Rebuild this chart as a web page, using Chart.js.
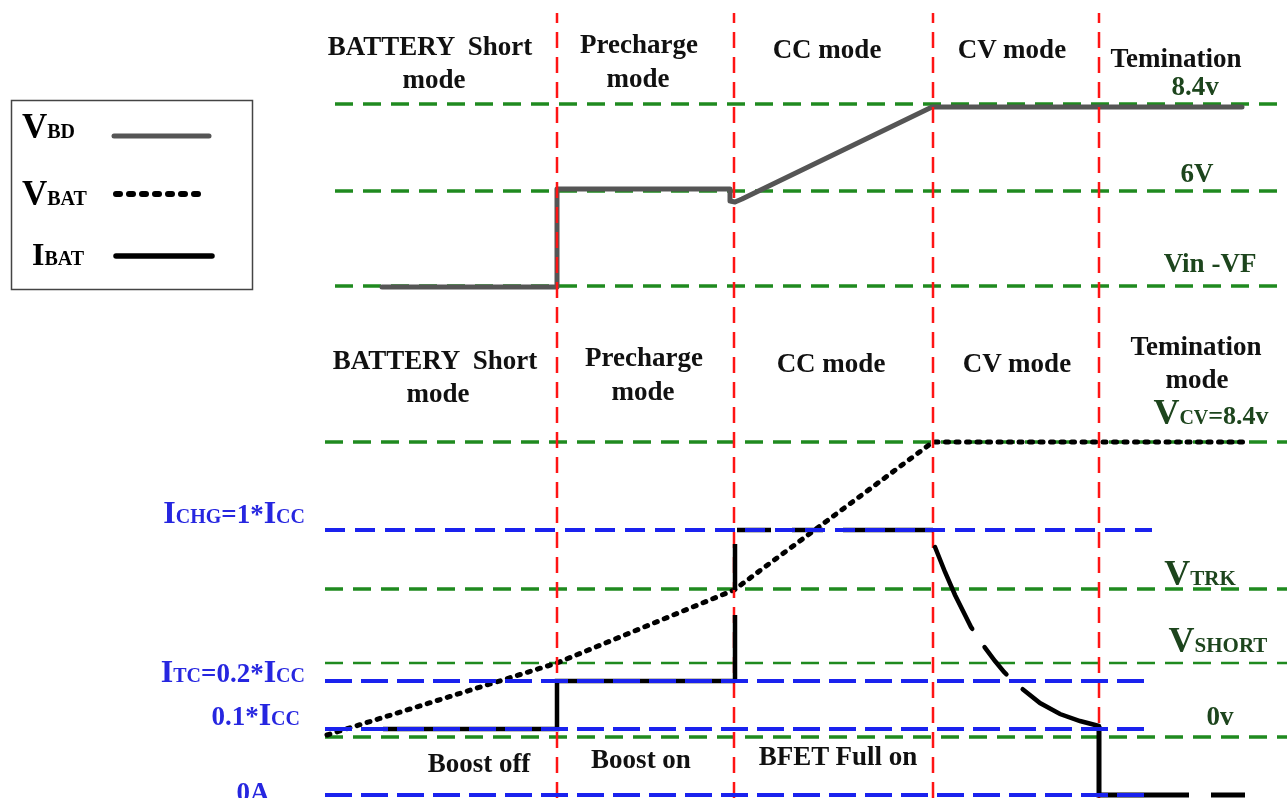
<!DOCTYPE html>
<html>
<head>
<meta charset="utf-8">
<script src="https://cdn.jsdelivr.net/npm/chart.js@4"></script>
<style>
  html, body { margin: 0; padding: 0; background: #fff; }
  #wrap { position: relative; width: 1287px; height: 798px; overflow: hidden; }
  #wrap canvas { position: absolute; left: 0; top: 0; }
  #labels { position: absolute; left: 0; top: 0; pointer-events: none; }
  #labels text { font-family: 'Liberation Serif', 'Times New Roman', serif; font-weight: bold; white-space: pre; }
  .mode { fill: #111; font-size: 27px; }
  .volt { fill: #1d451d; }
  .amp { fill: #2626e0; }
</style>
</head>
<body>
<div id="wrap">
  <canvas id="timing" width="1287" height="798"></canvas>
  <svg id="labels" width="1287" height="798">
    <!-- legend -->
    <rect x="11.5" y="100.5" width="241" height="189" fill="none" stroke="#444" stroke-width="1.5"/>
    <text x="22" y="138"><tspan font-size="35">V</tspan><tspan font-size="20">BD</tspan></text>
    <line x1="114" y1="136" x2="209" y2="136" stroke="#555" stroke-width="5" stroke-linecap="round"/>
    <text x="22" y="205"><tspan font-size="35">V</tspan><tspan font-size="20">BAT</tspan></text>
    <line x1="116" y1="194" x2="204" y2="194" stroke="#000" stroke-width="6" stroke-linecap="round" stroke-dasharray="4 9"/>
    <text x="32" y="265"><tspan font-size="32">I</tspan><tspan font-size="20">BAT</tspan></text>
    <line x1="116" y1="256" x2="212" y2="256" stroke="#000" stroke-width="5.5" stroke-linecap="round"/>

    <!-- upper panel -->
    <text class="mode" x="430" y="55" text-anchor="middle">BATTERY  Short</text>
    <text class="mode" x="434" y="88" text-anchor="middle">mode</text>
    <text class="mode" x="639" y="53" text-anchor="middle">Precharge</text>
    <text class="mode" x="638" y="87" text-anchor="middle">mode</text>
    <text class="mode" x="827" y="58" text-anchor="middle">CC mode</text>
    <text class="mode" x="1012" y="58" text-anchor="middle">CV mode</text>
    <text class="mode" x="1176" y="67" text-anchor="middle">Temination</text>
    <text class="volt" x="1195" y="95" text-anchor="middle" font-size="27">8.4v</text>
    <text class="volt" x="1197" y="182" text-anchor="middle" font-size="27">6V</text>
    <text class="volt" x="1210" y="272" text-anchor="middle" font-size="27">Vin -VF</text>

    <!-- lower panel -->
    <text class="mode" x="435" y="369" text-anchor="middle">BATTERY  Short</text>
    <text class="mode" x="438" y="402" text-anchor="middle">mode</text>
    <text class="mode" x="644" y="366" text-anchor="middle">Precharge</text>
    <text class="mode" x="643" y="400" text-anchor="middle">mode</text>
    <text class="mode" x="831" y="372" text-anchor="middle">CC mode</text>
    <text class="mode" x="1017" y="372" text-anchor="middle">CV mode</text>
    <text class="mode" x="1196" y="355" text-anchor="middle">Temination</text>
    <text class="mode" x="1197" y="388" text-anchor="middle">mode</text>
    <text class="volt" x="1211" y="424" text-anchor="middle"><tspan font-size="36">V</tspan><tspan font-size="20">CV</tspan><tspan font-size="26">=8.4v</tspan></text>
    <text class="volt" x="1200" y="585" text-anchor="middle"><tspan font-size="36">V</tspan><tspan font-size="21">TRK</tspan></text>
    <text class="volt" x="1218" y="652" text-anchor="middle"><tspan font-size="36">V</tspan><tspan font-size="21">SHORT</tspan></text>
    <text class="volt" x="1220" y="725" text-anchor="middle" font-size="27">0v</text>

    <text class="amp" x="305" y="523" text-anchor="end"><tspan font-size="32">I</tspan><tspan font-size="20">CHG</tspan><tspan font-size="27">=1*</tspan><tspan font-size="32">I</tspan><tspan font-size="20">CC</tspan></text>
    <text class="amp" x="305" y="682" text-anchor="end"><tspan font-size="32">I</tspan><tspan font-size="20">TC</tspan><tspan font-size="27">=0.2*</tspan><tspan font-size="32">I</tspan><tspan font-size="20">CC</tspan></text>
    <text class="amp" x="300" y="725" text-anchor="end"><tspan font-size="27">0.1*</tspan><tspan font-size="32">I</tspan><tspan font-size="20">CC</tspan></text>
    <text class="amp" x="253" y="801" text-anchor="middle" font-size="27">0A</text>

    <text class="mode" x="479" y="772" text-anchor="middle">Boost off</text>
    <text class="mode" x="641" y="768" text-anchor="middle">Boost on</text>
    <text class="mode" x="838" y="765" text-anchor="middle">BFET Full on</text>
  </svg>
</div>
<script>
// phase boundaries along the time axis
const phaseEdges = [557, 734, 933, 1099];
const phaseTop = 785;

// reference levels, upper panel (VBD)
const topLevelNames = ['8.4v', '6V', 'Vin -VF'];
const topLevels = [694, 607, 512];
const topSpan = [335, 1295];

// reference levels, lower panel (VBAT)
const voltNames = ['VCV', 'VTRK', 'VSHORT', '0v'];
const voltLevels = [356, 209, 135, 61];
const voltSpan = [325, 1295];

// current levels, lower panel (IBAT)
const currentNames = ['ICHG', 'ITC', '0.1*ICC', '0A'];
const currentLevels = [268, 117, 69, 3];
const currentSpan = [325, 1152];

// VBD trace
const vbdT = [382, 557, 557, 730, 730, 735, 742, 932, 1242];
const vbdV = [511, 511, 609, 609, 597, 596, 599, 691, 691];

// VBAT trace
const vbatT = [327, 557, 734, 933, 1248];
const vbatV = [63, 135, 208, 356, 356];

// IBAT trace, one piece per drawing style
const ibatPreT = [383, 557, 557, 735];
const ibatPreV = [69, 69, 117, 117];
const ibatCcT = [735, 735, 933];
const ibatCcV = [117, 268, 268];
const ibatCvT = [935, 945, 955, 965, 971, 983, 995, 1004, 1020, 1040, 1060, 1080, 1099];
const ibatCvV = [251, 226, 203, 183, 171, 153, 137, 126, 111, 95, 84, 77, 72];
const ibatEndT = [1099, 1099, 1245];
const ibatEndV = [72, 3, 3];

const pts = (xs, ys) => xs.map((x, i) => ({ x: x, y: ys[i] }));
const hline = (y, span) => [{ x: span[0], y: y }, { x: span[1], y: y }];

const GREEN = '#1f8a1f';
const BLUE = '#1a22ee';

let datasets = [];

// blue current levels (top layer)
currentLevels.forEach((lv, i) => {
  datasets.push({ label: currentNames[i], data: hline(lv, currentSpan),
    borderColor: BLUE, borderWidth: 4, borderDash: i == 0 ? [20, 10] : [27, 9], order: 1 });
});

// IBAT black
datasets.push({ label: 'IBAT', data: pts(ibatPreT, ibatPreV), borderColor: '#000', borderWidth: 4.5, order: 2 });
datasets.push({ label: 'IBAT cc', data: pts(ibatCcT, ibatCcV), borderColor: '#000', borderWidth: 4.5,
  borderDash: [66, 25, 46, 16, 34, 21, 31, 20, 200], order: 2 });
datasets.push({ label: 'IBAT cv', data: pts(ibatCvT, ibatCvV), borderColor: '#000', borderWidth: 4.5,
  borderDash: [90, 22, 35, 22, 200], borderCapStyle: 'round', order: 2 });
datasets.push({ label: 'IBAT end', data: pts(ibatEndT, ibatEndV), borderColor: '#000', borderWidth: 5,
  borderDash: [159, 22, 40, 100], order: 2 });

// red phase separators
phaseEdges.forEach(t => {
  datasets.push({ label: 'phase', data: [{ x: t, y: 0 }, { x: t, y: phaseTop }],
    borderColor: '#ff1414', borderWidth: 2.5, borderDash: [16, 9], order: 3 });
});

// VBAT dotted
datasets.push({ label: 'VBAT', data: pts(vbatT, vbatV), borderColor: '#000', borderWidth: 5,
  borderDash: [3, 7.5], borderCapStyle: 'round', order: 4 });

// VBD grey
datasets.push({ label: 'VBD', data: pts(vbdT, vbdV), borderColor: '#555', borderWidth: 5,
  borderJoinStyle: 'round', borderCapStyle: 'round', order: 5 });

// green voltage levels (bottom layer)
topLevels.forEach((lv, i) => {
  datasets.push({ label: topLevelNames[i], data: hline(lv, topSpan),
    borderColor: GREEN, borderWidth: 3.5, borderDash: [18, 10], order: 6 });
});
voltLevels.forEach((lv, i) => {
  datasets.push({ label: voltNames[i], data: hline(lv, voltSpan),
    borderColor: GREEN, borderWidth: voltNames[i] == 'VSHORT' ? 2.5 : 3.5, borderDash: [18, 10], order: 6 });
});

datasets = datasets.map(d => Object.assign({ showLine: true, pointRadius: 0, fill: false, tension: 0, clip: false }, d));

new Chart(document.getElementById('timing').getContext('2d'), {
  type: 'scatter',
  data: { datasets: datasets },
  options: {
    responsive: false,
    animation: false,
    events: [],
    layout: { padding: 0 },
    plugins: { legend: { display: false }, tooltip: { enabled: false } },
    scales: {
      x: { type: 'linear', min: 0, max: 1287, display: false },
      y: { type: 'linear', min: 0, max: 798, display: false }
    }
  }
});
</script>
</body>
</html>
